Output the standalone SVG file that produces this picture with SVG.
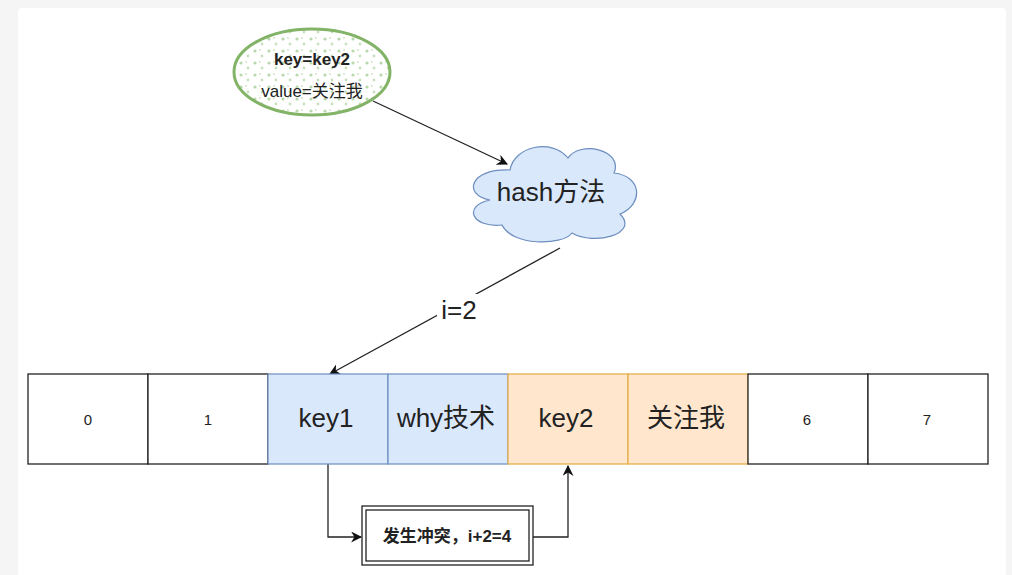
<svg xmlns="http://www.w3.org/2000/svg" width="1012" height="575" viewBox="0 0 1012 575">
<style>
.t{font-family:"Liberation Sans","Noto Sans CJK SC",sans-serif;fill:#222;text-anchor:middle;dominant-baseline:central}
.big{font-size:26px}
.sm{font-size:15px}
.md{font-size:17px}
.b{font-weight:bold}
.line{fill:none;stroke:#222;stroke-width:1.3}
.cw{fill:#fff;stroke:#222;stroke-width:1.3}
.cb{fill:#dae8fc;stroke:#6c8ebf;stroke-width:1.2}
.co{fill:#ffe6cc;stroke:#e5b04c;stroke-width:1.3}
</style>
<defs>
<marker id="arr" viewBox="0 0 10 10" refX="9" refY="5" markerWidth="11" markerHeight="11" markerUnits="userSpaceOnUse" orient="auto">
<path d="M0,0 L10,5 L0,10 L3,5 Z" fill="#111"/>
</marker>
<pattern id="dots" width="14" height="12" patternUnits="userSpaceOnUse">
<circle cx="3" cy="3" r="1.6" fill="#b9d7ad"/>
<circle cx="10" cy="8" r="1.4" fill="#c6dfbc"/>
<circle cx="8" cy="2" r="1" fill="#cfe5c6"/>
</pattern>
</defs>
<rect x="0" y="0" width="1012" height="575" fill="#f5f5f5"/>
<rect x="18" y="8" width="988" height="580" rx="4" fill="#fff"/>

<g id="connectors">
<line class="line" x1="373" y1="101" x2="507" y2="164" marker-end="url(#arr)"/>
<line class="line" x1="560" y1="248" x2="330" y2="374" marker-end="url(#arr)"/>
<rect x="437" y="294" width="44" height="32" fill="#fff"/>
<text class="t big" x="459" y="310">i=2</text>
<polyline class="line" points="328,464 328,537 361,537" marker-end="url(#arr)"/>
<polyline class="line" points="533,537 568,537 568,466" marker-end="url(#arr)"/>
</g>

<g id="node-key">
<ellipse cx="312" cy="72" rx="78" ry="43" fill="#fff"/>
<ellipse cx="312" cy="72" rx="78" ry="43" fill="url(#dots)" stroke="#82b366" stroke-width="3"/>
<text class="t md b" x="312" y="59">key=key2</text>
<text class="t md" x="312" y="91">value=关注我</text>
</g>

<g id="node-hash">
<path d="M510,170 C470,168 462,195 490,200 C462,206 472,228 502,225 C512,246 562,246 572,233 C594,246 640,234 620,214 C644,204 642,176 614,173 C624,150 580,140 568,158 C552,138 514,146 510,170 Z" fill="#dae8fc" stroke="#6c8ebf" stroke-width="1.2"/>
<text class="t big" x="551" y="192">hash方法</text>
</g>

<g id="cell-0"><rect class="cw" x="28" y="374" width="120" height="90"/><text class="t sm" x="88" y="419">0</text></g>
<g id="cell-1"><rect class="cw" x="148" y="374" width="120" height="90"/><text class="t sm" x="208" y="419">1</text></g>
<g id="cell-2"><rect class="cb" x="268" y="374" width="120" height="90"/><text class="t big" x="326" y="418">key1</text></g>
<g id="cell-3"><rect class="cb" x="388" y="374" width="120" height="90"/><text class="t big" x="446" y="418">why技术</text></g>
<g id="cell-4"><rect class="co" x="508" y="374" width="120" height="90"/><text class="t big" x="566" y="418">key2</text></g>
<g id="cell-5"><rect class="co" x="628" y="374" width="120" height="90"/><text class="t big" x="686" y="418">关注我</text></g>
<g id="cell-6"><rect class="cw" x="748" y="374" width="120" height="90"/><text class="t sm" x="807" y="419">6</text></g>
<g id="cell-7"><rect class="cw" x="868" y="374" width="120" height="90"/><text class="t sm" x="927" y="419">7</text></g>

<g id="node-collision">
<rect x="362" y="506" width="171" height="59" fill="#fff" stroke="#222" stroke-width="1.3"/>
<rect x="366" y="510" width="163" height="51" fill="none" stroke="#222" stroke-width="1.3"/>
<text class="t md b" x="447" y="536">发生冲突，i+2=4</text>
</g>
</svg>
